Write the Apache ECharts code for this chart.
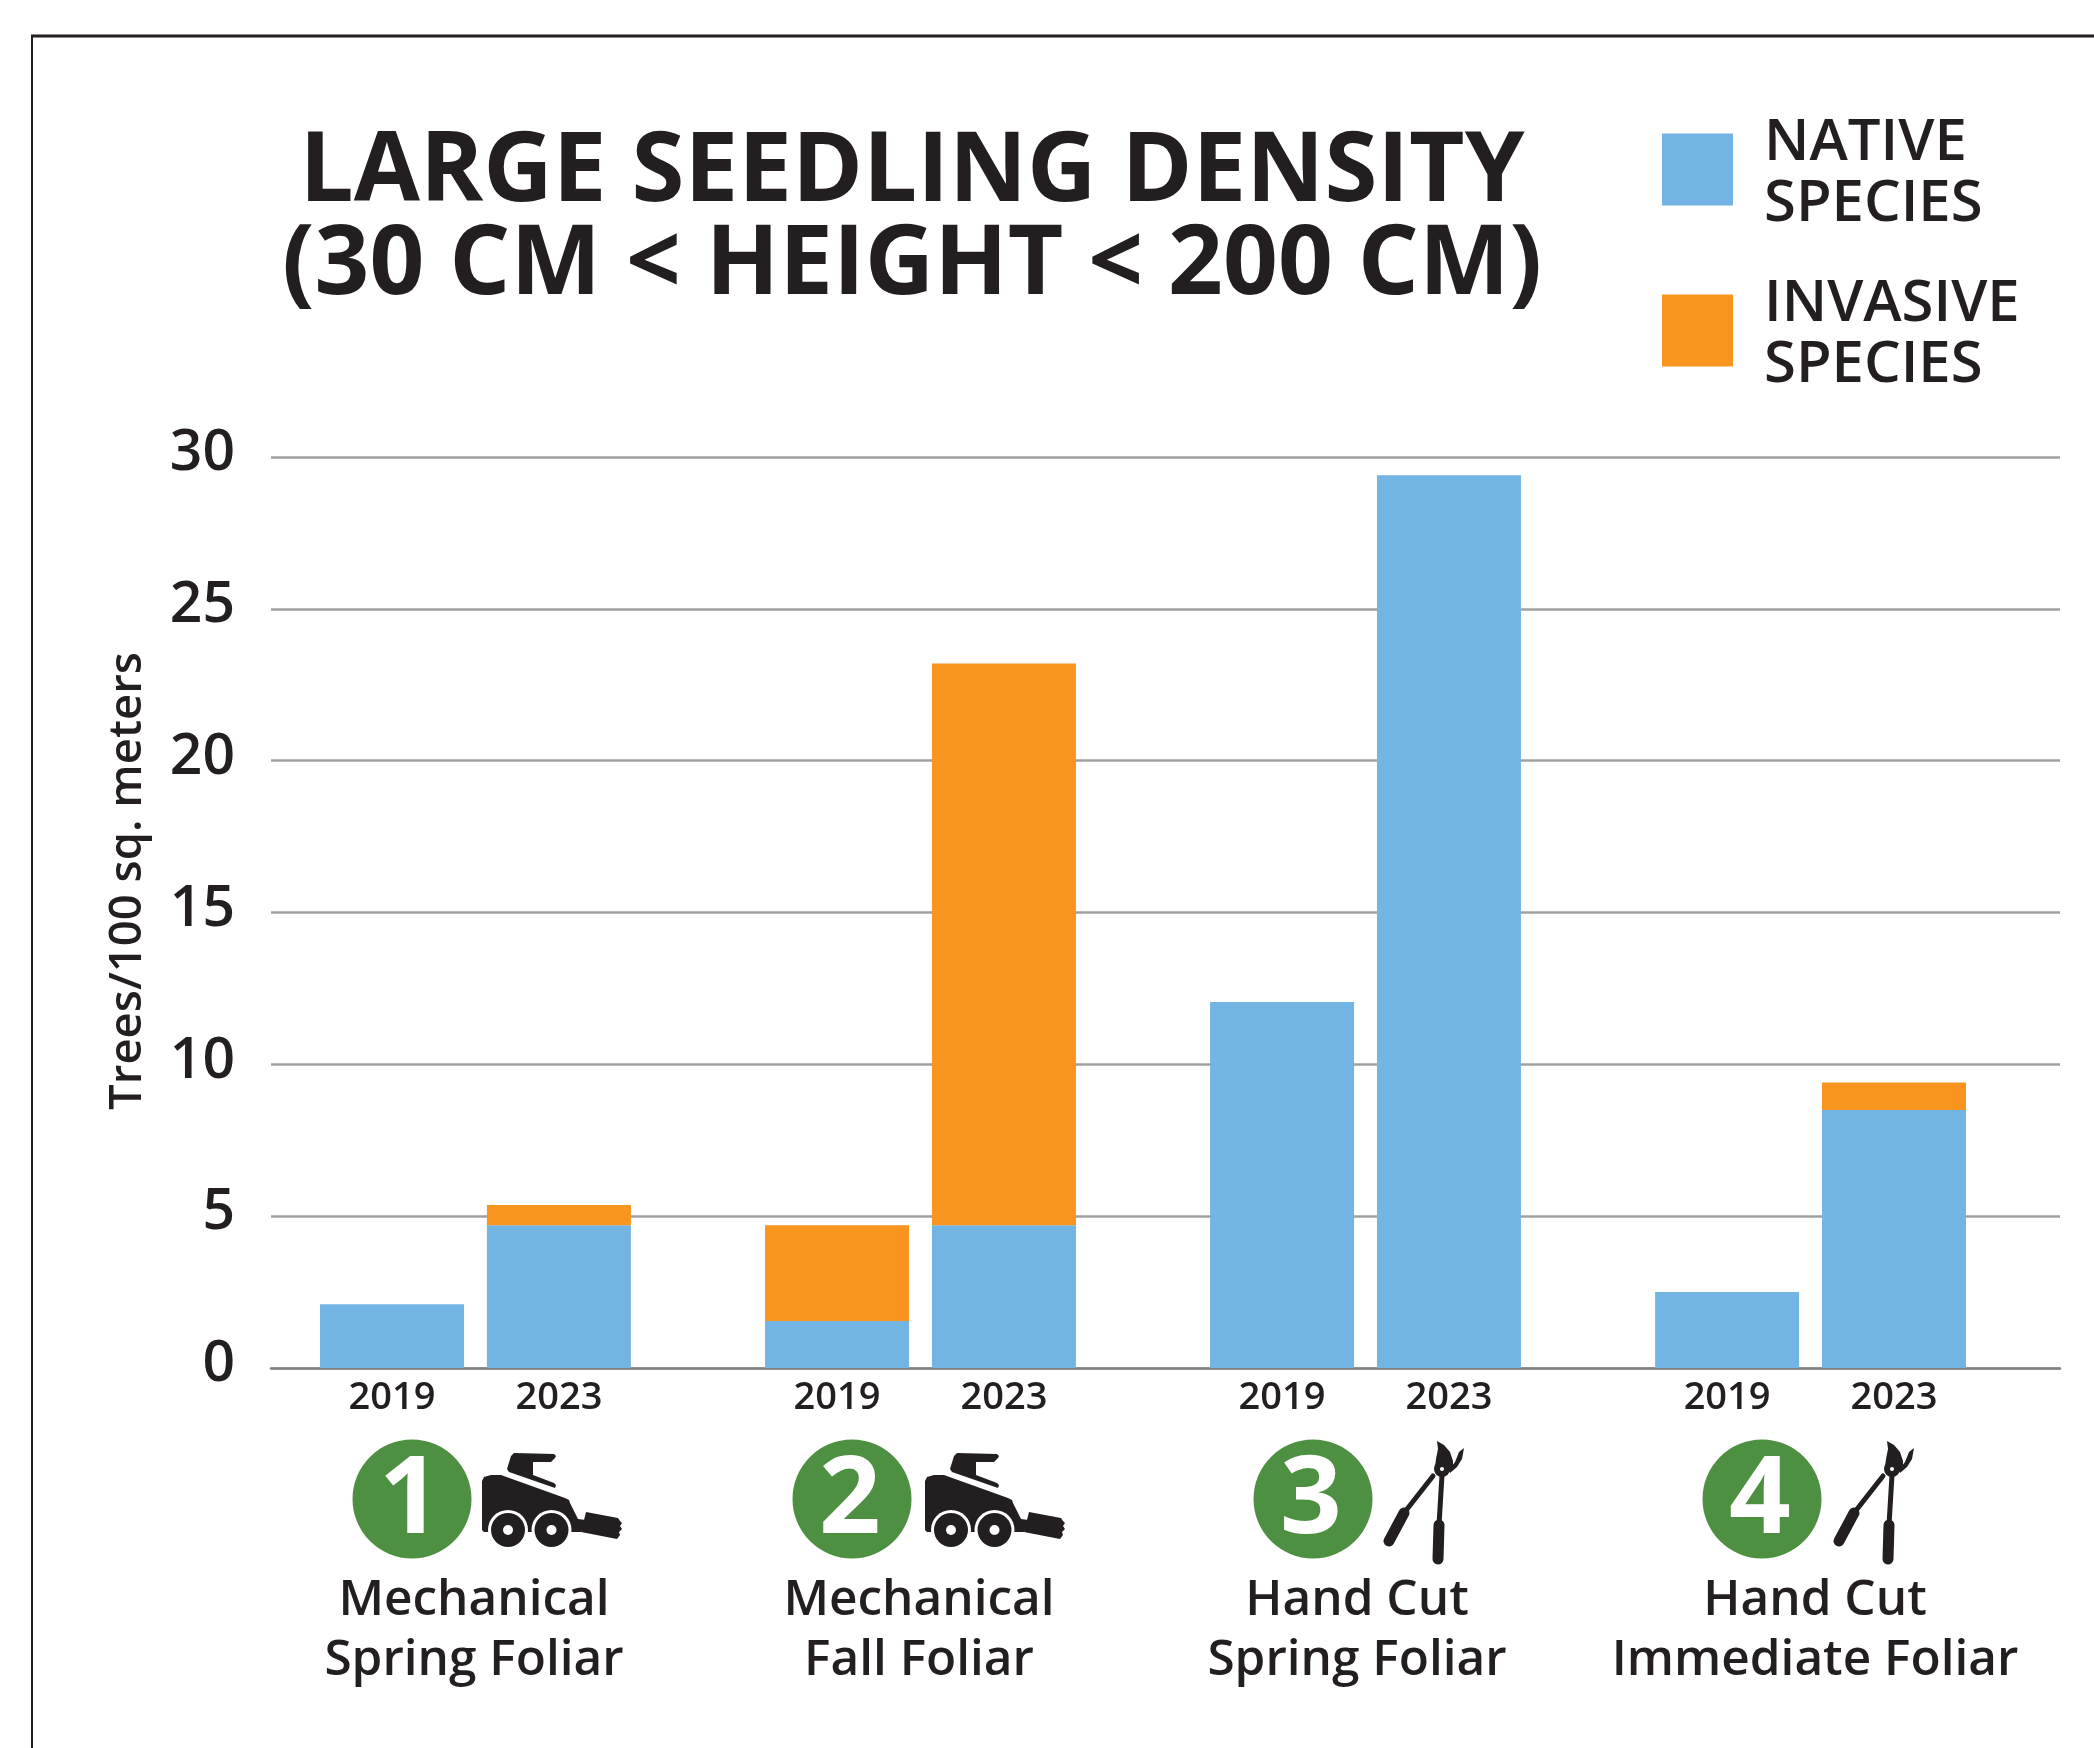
<!DOCTYPE html>
<html>
<head>
    <meta charset="utf-8">
    <title>Large Seedling Density</title>
    <style>
        html, body { margin: 0; padding: 0; background: #fff; }
        #chart { width: 2094px; height: 1748px; }
    </style>
</head>
<body>
<div id="chart"></div>
<script src="https://cdn.jsdelivr.net/npm/echarts@6/dist/echarts.min.js"></script>
<script>
    var years = ['2019', '2023', '2019', '2023', '2019', '2023', '2019', '2023'];
    var nativeValues = [2.1, 4.7, 1.55, 4.7, 12.05, 29.4, 2.5, 8.5];
    var invasiveValues = [0, 0.67, 3.15, 18.5, 0, 0, 0, 0.9];
    var yTicks = [0, 5, 10, 15, 20, 25, 30];
    var seriesNames = ['NATIVE SPECIES', 'INVASIVE SPECIES'];
    var titleLines = ['LARGE SEEDLING DENSITY', '(30 CM < HEIGHT < 200 CM)'];
    var yAxisTitle = 'Trees/100 sq. meters';
    var treatmentNumbers = ['1', '2', '3', '4'];
    var treatmentTools = ['loader', 'loader', 'lopper', 'lopper'];
    var treatmentLines = [
        ['Mechanical', 'Spring Foliar'],
        ['Mechanical', 'Fall Foliar'],
        ['Hand Cut', 'Spring Foliar'],
        ['Hand Cut', 'Immediate Foliar']
    ];

    var INK = '#231f20';
    var BLUE = '#72b4e3';
    var ORANGE = '#f7951f';
    var GREEN = '#4e9041';
    var FONT = '"Open Sans", sans-serif';

    // bars sit on a row of equal slots, blank slots make the gaps between pairs
    var pairGap = 2, groupGap = 4;
    var categories = [], nativeSlots = [], invasiveSlots = [];
    years.forEach(function (year, i) {
        categories.push(year);
        nativeSlots.push(nativeValues[i]);
        invasiveSlots.push(invasiveValues[i] || null);
        if (i === years.length - 1) return;
        var gap = i % 2 === 0 ? pairGap : groupGap;
        for (var k = 0; k < gap; k++) {
            categories.push('');
            nativeSlots.push(null);
            invasiveSlots.push(null);
        }
    });

    // icon placement on the page
    var circleX = [412, 852, 1313, 1762];
    var toolX = [482, 925, 1383, 1833];
    var labelX = [474, 919, 1357, 1815];

    function poly(points) {
        return {type: 'polygon', shape: {points: points}, style: {fill: INK}};
    }

    function loaderIcon(x, y) {
        return {
            type: 'group', x: x, y: y, children: [
                // cab roof
                poly([[32, 0], [72, 1], [74, 3], [73, 5], [69, 9], [51, 9], [51, 22], [72, 30], [74, 32], [73, 35], [27, 19], [25, 16], [29, 3]]),
                // body
                poly([[0, 28], [2, 24], [9, 22], [19, 22], [83, 45], [87, 47], [88, 50], [96, 66], [104, 67], [99, 79], [2, 79], [0, 77]]),
                // brush head
                poly([[104, 59], [136, 65], [138, 68], [140, 70], [138, 73], [140, 76], [137, 79], [138, 82], [135, 86], [99, 79]]),
                {type: 'circle', shape: {cx: 26, cy: 77, r: 20}, style: {fill: '#fff'}},
                {type: 'circle', shape: {cx: 69.5, cy: 77, r: 20}, style: {fill: '#fff'}},
                {type: 'circle', shape: {cx: 26, cy: 77, r: 17}, style: {fill: INK}},
                {type: 'circle', shape: {cx: 69.5, cy: 77, r: 17}, style: {fill: INK}},
                {type: 'circle', shape: {cx: 26, cy: 77, r: 5}, style: {fill: '#fff'}},
                {type: 'circle', shape: {cx: 69.5, cy: 77, r: 5}, style: {fill: '#fff'}}
            ]
        };
    }

    function lopperIcon(x, y) {
        function stick(x1, y1, x2, y2, w) {
            return {type: 'line', shape: {x1: x1, y1: y1, x2: x2, y2: y2}, style: {stroke: INK, lineWidth: w, lineCap: 'round'}};
        }
        return {
            type: 'group', x: x, y: y, children: [
                poly([[54, 0], [61, 4], [67, 11], [70, 20], [70, 27], [64, 33], [53, 33], [52, 26], [53, 18], [55, 8]]),
                poly([[81, 7], [79, 18], [74, 26], [67, 32], [66, 29], [72, 21], [76, 11]]),
                stick(59, 34, 56, 84, 5),
                stick(56, 84, 55, 118, 11),
                stick(50, 35, 21, 72, 5),
                stick(21, 72, 6, 100, 11),
                {type: 'circle', shape: {cx: 59, cy: 28, r: 8}, style: {fill: INK}},
                {type: 'circle', shape: {cx: 59, cy: 28, r: 2}, style: {fill: '#fff'}}
            ]
        };
    }

    var graphics = [
        // page frame
        {type: 'line', shape: {x1: 31, y1: 36, x2: 2094, y2: 36}, style: {stroke: INK, lineWidth: 3}},
        {type: 'line', shape: {x1: 32, y1: 36, x2: 32, y2: 1748}, style: {stroke: INK, lineWidth: 2}},
        {
            type: 'text', x: 128, y: 881, rotation: Math.PI / 2,
            style: {text: yAxisTitle, font: '600 45.5px ' + FONT, fill: INK, align: 'center', verticalAlign: 'middle'}
        }
    ];
    treatmentNumbers.forEach(function (num, i) {
        graphics.push({type: 'circle', shape: {cx: circleX[i], cy: 1499, r: 59.5}, style: {fill: GREEN}});
        graphics.push({
            type: 'text', x: circleX[i] - 2, y: 1502,
            style: {text: num, font: '700 108px ' + FONT, fill: '#fff', align: 'center', verticalAlign: 'middle'}
        });
        graphics.push(treatmentTools[i] === 'loader' ? loaderIcon(toolX[i], 1453) : lopperIcon(toolX[i], 1441));
        treatmentLines[i].forEach(function (line, k) {
            graphics.push({
                type: 'text', x: labelX[i], y: 1601 + k * 60,
                style: {text: line, font: '600 49.5px ' + FONT, fill: INK, align: 'center', verticalAlign: 'middle'}
            });
        });
    });

    var chart = echarts.init(document.getElementById('chart'));
    chart.setOption({
        animation: false,
        backgroundColor: '#fff',
        title: {
            text: titleLines.join('\n'),
            left: 907, top: 122,
            textAlign: 'center',
            textStyle: {fontFamily: FONT, fontWeight: 700, fontSize: 96, lineHeight: 93, color: INK}
        },
        legend: {
            orient: 'vertical',
            left: 1657, top: 109,
            itemWidth: 71, itemHeight: 72, itemGap: 42,
            icon: 'rect',
            data: seriesNames,
            // rich text so the top padding really moves the words below the swatch centre
            formatter: function (name) {
                return name.split(' ').map(function (word) { return '{t|' + word + '}'; }).join('\n');
            },
            textStyle: {
                padding: [8, 0, 0, 26],
                rich: {t: {fontFamily: FONT, fontWeight: 600, fontSize: 58, lineHeight: 61, color: INK}}
            }
        },
        // first grid only carries the gridlines, the bars use the second one
        grid: [
            {left: 271, top: 457, width: 1789, height: 911},
            {left: 364.2, top: 457, width: 1557.6, height: 911}
        ],
        xAxis: [
            {
                type: 'category', gridIndex: 0, data: [''],
                axisLine: {lineStyle: {color: '#808285', width: 2.5}},
                axisTick: {show: false}, axisLabel: {show: false}
            },
            {
                type: 'category', gridIndex: 1, data: categories,
                axisLine: {show: false}, axisTick: {show: false},
                axisLabel: {interval: 0, margin: 11, fontFamily: FONT, fontWeight: 600, fontSize: 38, color: INK}
            }
        ],
        yAxis: [
            {
                type: 'value', gridIndex: 0, min: 0, max: 30, interval: 5,
                axisLine: {show: false}, axisTick: {show: false},
                axisLabel: {
                    margin: 36, fontFamily: FONT, fontWeight: 600, fontSize: 57, color: INK,
                    verticalAlign: 'bottom', lineHeight: 6,
                    customValues: yTicks
                },
                splitLine: {lineStyle: {color: '#a0a0a2', width: 2.5}}
            },
            {
                type: 'value', gridIndex: 1, min: 0, max: 30, interval: 5, show: false
            }
        ],
        series: [
            {
                name: seriesNames[0], type: 'bar', stack: 'total', xAxisIndex: 1, yAxisIndex: 1,
                barWidth: 144, clip: false, data: nativeSlots, itemStyle: {color: BLUE}
            },
            {
                name: seriesNames[1], type: 'bar', stack: 'total', xAxisIndex: 1, yAxisIndex: 1,
                barWidth: 144, clip: false, data: invasiveSlots, itemStyle: {color: ORANGE}
            }
        ],
        graphic: graphics
    });
</script>
</body>
</html>
